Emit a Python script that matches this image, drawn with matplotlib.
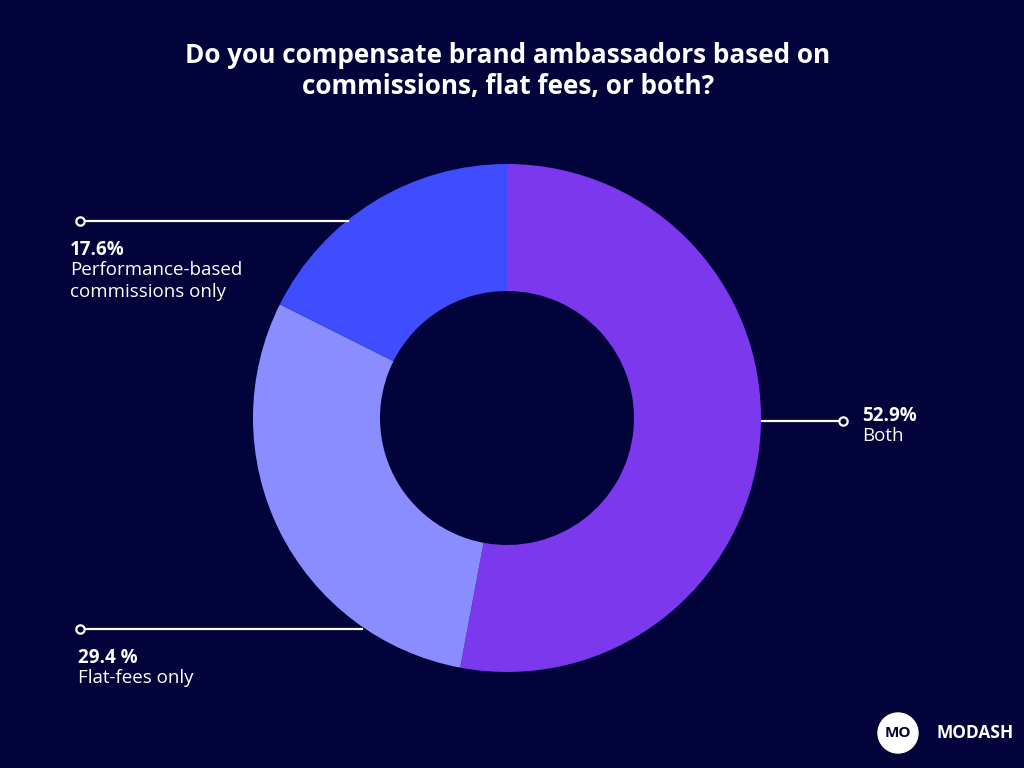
import matplotlib.pyplot as plt
from matplotlib.patches import Circle

labels = ["Both", "Flat-fees only", "Performance-based\ncommissions only"]
pct_text = ["52.9%", "29.4 %", "17.6%"]
values = [52.9, 29.4, 17.6]
colors = ["#7b38ec", "#8a8dff", "#3f4dff"]

bg = "#02033a"
W, H = 1024, 768

fig = plt.figure(figsize=(10.24, 7.68), dpi=100, facecolor=bg)
ax = fig.add_axes([0, 0, 1, 1])
ax.set_aspect("equal")
ax.set_facecolor(bg)

cx, cy, R = 507, H - 418, 254
ax.pie(values, colors=colors, startangle=90, counterclock=False,
       center=(cx, cy), radius=R, frame=True,
       wedgeprops=dict(width=R * 0.5, linewidth=0))
ax.set_xlim(0, W)
ax.set_ylim(0, H)
ax.axis("off")

fam = ["Open Sans", "DejaVu Sans"]

ax.text(508, H - 71, "Do you compensate brand ambassadors based on\ncommissions, flat fees, or both?",
        ha="center", va="center", color="white", fontsize=18.8, fontweight="bold",
        family=fam, linespacing=1.2)

# leader lines (pixel coords from top)
leaders = [((762, 421), (843, 421), (862, 416)),
           ((362, 629), (80, 629), (78, 658)),
           ((348, 221), (80, 221), (70, 250))]
for i, (a, b, t) in enumerate(leaders):
    ax.plot([a[0], b[0]], [H - a[1], H - b[1]], color="white", lw=1.6, zorder=3)
    ax.plot(b[0], H - b[1], marker="o", ms=6, mfc=bg, mec="white", mew=1.6, zorder=4)
    ax.text(t[0], H - t[1], pct_text[i], ha="left", va="center", color="white",
            fontsize=13.5, fontweight="bold", family=fam)
    ax.text(t[0], H - t[1] - 11, labels[i], ha="left", va="top", color="white",
            fontsize=13.5, family=fam, linespacing=1.3)

# logo
ax.add_patch(Circle((898, H - 733), 20, color="white", zorder=5))
ax.text(898, H - 733, "MO", ha="center", va="center", color=bg, fontsize=11,
        fontweight="bold", family=fam, zorder=6)
ax.text(937, H - 733, "MODASH", ha="left", va="center", color="white", fontsize=12.5,
        fontweight="bold", family=fam)

fig.savefig("out.png", dpi=100, facecolor=bg)
